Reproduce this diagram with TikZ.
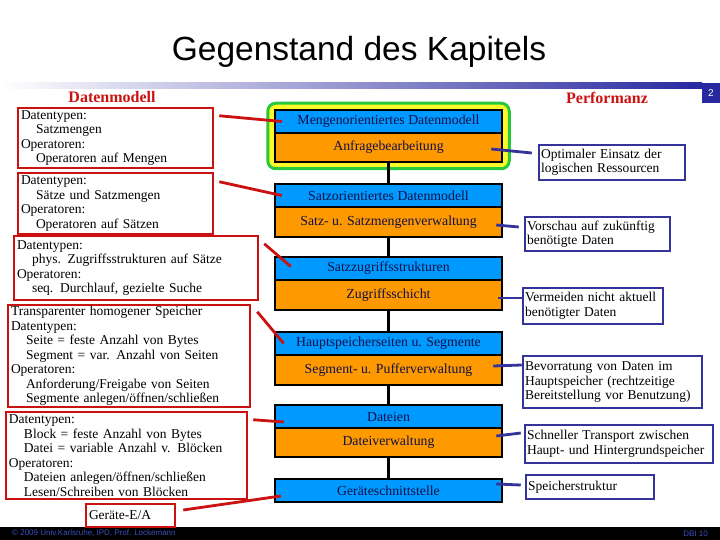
\documentclass[tikz,border=0pt]{standalone}
\usepackage{fontspec}
\setmainfont{Liberation Serif}
\newfontfamily\sansf{Liberation Sans}
\usetikzlibrary{fit,backgrounds}
\definecolor{segblue}{RGB}{0,153,255}
\definecolor{segorange}{RGB}{255,153,0}
\definecolor{segtext}{RGB}{16,16,70}
\definecolor{dmred}{RGB}{204,17,17}
\definecolor{pfblue}{RGB}{51,51,153}
\definecolor{barblue}{RGB}{40,40,160}
\definecolor{foottext}{RGB}{60,80,190}
\definecolor{fitgreen}{RGB}{40,200,60}
\definecolor{fityellow}{RGB}{250,250,40}
\tikzset{
  seg/.style={draw=black, line width=2.5pt, minimum width=227pt, inner sep=0pt,
    text=segtext, font=\fontsize{13.8}{15}\selectfont},
  bseg/.style={seg, fill=segblue, minimum height=23pt},
  oseg/.style={seg, fill=segorange, minimum height=30pt},
  dmbox/.style={draw=dmred, line width=2.5pt, inner xsep=3pt, inner ysep=0pt, align=left,
    font=\fontsize{13.5}{14.5}\selectfont, fill=white},
  pfbox/.style={draw=pfblue, line width=2.5pt, inner xsep=2pt, inner ysep=0pt, align=left,
    font=\fontsize{13.5}{14.5}\selectfont, fill=white},
  redline/.style={draw=dmred, line width=2.8pt},
  blueline/.style={draw=pfblue, line width=2.8pt},
  vline/.style={draw=black, line width=2.5pt},
  heading/.style={text=dmred, font=\bfseries\fontsize{16}{18}\selectfont}
}
\newcommand{\ind}{\hspace*{15pt}}
\begin{document}
\begin{tikzpicture}[x=1pt,y=-1pt]
\useasboundingbox (0,0) rectangle (720,540);
% title
\node (title) at (359,52) {\sansf\fontsize{33.5}{36}\selectfont Gegenstand des Kapitels};
\shade[left color=white, right color=barblue] (0,83) rectangle (702,89);
\node[fill=barblue, minimum width=18pt, minimum height=20pt, inner sep=0pt, text=white,
  font=\sansf\fontsize{10}{12}\selectfont] (pnum) at (711,93) {2};
\node[heading] (hdm) at (112,97) {Datenmodell};
\node[heading] (hpf) at (607,98) {Performanz};
% footer
\fill[black] (0,527) rectangle (720,540);
\node[anchor=west, text=foottext, font=\sansf\fontsize{8}{9}\selectfont, inner sep=0pt] (foot) at (12,533.5)
  {\textcopyright{} 2009 Univ.Karlsruhe, IPD, Prof. Lockemann};
\node[anchor=east, text=foottext, font=\sansf\fontsize{8}{9}\selectfont, inner sep=0pt] (dbi) at (708,533.5)
  {DBI 10};
% layers
\node[bseg] (m1) at (388.5,121.5) {Mengenorientiertes Datenmodell};
\node[oseg, minimum height=29pt] (a1) at (388.5,147.5) {Anfragebearbeitung};
\node[bseg] (m2) at (388.5,195.5) {Satzorientiertes Datenmodell};
\node[oseg] (a2) at (388.5,222) {Satz- u. Satzmengenverwaltung};
\node[bseg] (m3) at (388.5,268.5) {Satzzugriffsstrukturen};
\node[oseg] (a3) at (388.5,295) {Zugriffsschicht};
\node[bseg] (m4) at (388.5,343.5) {Hauptspeicherseiten u. Segmente};
\node[oseg] (a4) at (388.5,370) {Segment- u. Pufferverwaltung};
\node[bseg] (m5) at (388.5,416.5) {Dateien};
\node[oseg, minimum height=29pt] (a5) at (388.5,442.5) {Dateiverwaltung};
\node[bseg] (m6) at (388.5,490.5) {Geräteschnittstelle};
\begin{scope}[on background layer]
  \fill[white] (0,0) rectangle (720,540);
  \node[fit=(m1)(a1), inner xsep=6pt, inner ysep=5.5pt, rounded corners=8pt, draw=fitgreen,
    line width=3pt, fill=fityellow] (grp) {};
\end{scope}
\draw[vline] (a1.south) -- (m2.north);
\draw[vline] (a2.south) -- (m3.north);
\draw[vline] (a3.south) -- (m4.north);
\draw[vline] (a4.south) -- (m5.north);
\draw[vline] (a5.south) -- (m6.north);
% left boxes
\node[dmbox, text width=189pt, minimum height=60pt] (b1) at (115.5,138)
  {Datentypen:\\\ind Satzmengen\\Operatoren:\\\ind Operatoren auf Mengen};
\node[dmbox, text width=189pt, minimum height=61pt] (b2) at (115.5,203.5)
  {Datentypen:\\\ind Sätze und Satzmengen\\Operatoren:\\\ind Operatoren auf Sätzen};
\node[dmbox, text width=238pt, minimum height=64pt] (b3) at (136,268)
  {Datentypen:\\\ind phys. Zugriffsstrukturen auf Sätze\\Operatoren:\\\ind seq. Durchlauf, gezielte Suche};
\node[dmbox, text width=236pt, minimum height=102pt] (b4) at (129,356)
  {Transparenter homogener Speicher\\Datentypen:\\\ind Seite = feste Anzahl von Bytes\\\ind Segment = var. Anzahl von Seiten\\Operatoren:\\\ind Anforderung/Freigabe von Seiten\\\ind Segmente anlegen/öffnen/schließen};
\node[dmbox, text width=235pt, minimum height=87pt] (b5) at (126.5,455.5)
  {Datentypen:\\\ind Block = feste Anzahl von Bytes\\\ind Datei = variable Anzahl v. Blöcken\\Operatoren:\\\ind Dateien anlegen/öffnen/schließen\\\ind Lesen/Schreiben von Blöcken};
\node[dmbox, text width=83pt, minimum height=23pt] (b6) at (130.5,515.5) {Geräte-E/A};
% right boxes
\node[pfbox, text width=142pt, minimum height=35pt] (r1) at (612,162.5)
  {Optimaler Einsatz der\\logischen Ressourcen};
\node[pfbox, text width=141pt, minimum height=34pt] (r2) at (597.5,234)
  {Vorschau auf zukünftig\\benötigte Daten};
\node[pfbox, text width=136pt, minimum height=36pt] (r3) at (593,306)
  {Vermeiden nicht aktuell\\benötigter Daten};
\node[pfbox, text width=175pt, minimum height=52pt] (r4) at (612.5,382)
  {Bevorratung von Daten im\\Hauptspeicher (rechtzeitige\\Bereitstellung vor Benutzung)};
\node[pfbox, text width=184pt, minimum height=38pt] (r5) at (619,444)
  {Schneller Transport zwischen\\Haupt- und Hintergrundspeicher};
\node[pfbox, text width=124pt, minimum height=24pt] (r6) at (590,487)
  {Speicherstruktur};
% red connectors
\draw[redline] ([xshift=5pt,yshift=-9pt]b1.north east) -- ([xshift=8pt]m1.west);
\draw[redline] ([xshift=5pt,yshift=-10pt]b2.north east) -- ([xshift=8pt]m2.west);
\draw[redline] ([xshift=5pt,yshift=-9pt]b3.north east) -- ([xshift=17pt,yshift=2pt]m3.west);
\draw[redline] ([xshift=6pt,yshift=-8pt]b4.north east) -- ([xshift=10pt]m4.west);
\draw[redline] ([xshift=5pt,yshift=-9pt]b5.north east) -- ([xshift=10pt,yshift=-5.5pt]m5.west);
\draw[redline] ([xshift=7pt,yshift=5.5pt]b6.east) -- ([xshift=7pt,yshift=-5.5pt]m6.west);
% blue connectors
\draw[blueline] ([xshift=-12pt,yshift=-1.5pt]a1.east) -- ([xshift=-6pt,yshift=9.5pt]r1.west);
\draw[blueline] ([xshift=-7pt,yshift=-3pt]a2.east) -- ([xshift=-5pt,yshift=7pt]r2.west);
\draw[blueline] ([xshift=-5pt,yshift=-3pt]a3.east) -- ([yshift=8pt]r3.west);
\draw[blueline] ([xshift=-10pt,yshift=4pt]a4.east) -- ([yshift=17pt]r4.west);
\draw[blueline] ([xshift=-7pt,yshift=6.5pt]a5.east) -- ([xshift=-3pt,yshift=11pt]r5.west);
\draw[blueline] ([xshift=-7pt,yshift=6.5pt]m6.east) -- ([xshift=-4pt,yshift=2pt]r6.west);
\end{tikzpicture}
\end{document}
